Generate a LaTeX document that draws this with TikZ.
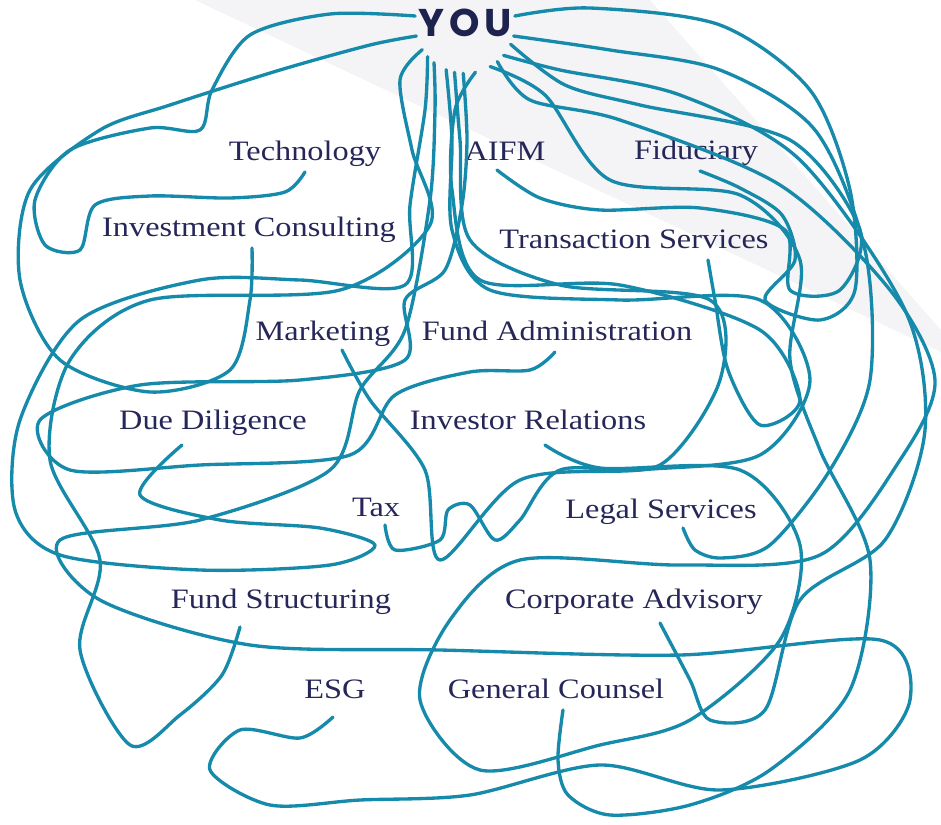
\documentclass[tikz,border=0pt]{standalone}
\usepackage{fontspec}
\setmainfont{Liberation Serif}[FakeStretch=1.15]
\newfontfamily\youfont{Poppins}[LetterSpace=12]
\usetikzlibrary{calc}
\definecolor{wireblue}{RGB}{22,138,171}
\definecolor{inkblue}{RGB}{38,39,88}
\definecolor{youblue}{RGB}{30,34,78}
\definecolor{beam}{RGB}{244,244,246}
\begin{document}
\begin{tikzpicture}[x=0.02cm, y=-0.02cm,
  wire/.style={draw=wireblue, line width=1.9pt, line cap=round, line join=round},
  lbl/.style={text=inkblue, font=\fontsize{16}{16}\selectfont, anchor=base, inner sep=0pt}]
\useasboundingbox (0,0) rectangle (941,825);
\fill[beam] (195,0) -- (650,0) -- (941,330) -- (941,352) -- cycle;

\node[circle, minimum size=2cm, inner sep=0pt, text=youblue, font=\youfont\bfseries\fontsize{22}{22}\selectfont] (you) at (465,23) {YOU};

\node[lbl] (tech) at (305,160) {Technology};
\node[lbl] (aifm) at (505,160) {AIFM};
\node[lbl] (fid) at (696,159) {Fiduciary};
\node[lbl] (inv) at (249,236) {Investment Consulting};
\node[lbl] (trans) at (634,248) {Transaction Services};
\node[lbl] (mark) at (323,340) {Marketing};
\node[lbl] (admin) at (557,340) {Fund Administration};
\node[lbl] (due) at (213,429) {Due Diligence};
\node[lbl] (rel) at (528,429) {Investor Relations};
\node[lbl] (tax) at (376,516) {Tax};
\node[lbl] (legal) at (661,518) {Legal Services};
\node[lbl] (struct) at (281,608) {Fund Structuring};
\node[lbl] (corp) at (634,608) {Corporate Advisory};
\node[lbl] (esg) at (335,698) {ESG};
\node[lbl] (gc) at (556,698) {General Counsel};

\coordinate (tech-tip) at ($(tech.base)+(0,12)$);
\coordinate (aifm-tip) at ($(aifm.base)+(-8,10)$);
\coordinate (fid-tip) at ($(fid.base)+(4,12)$);
\coordinate (inv-tip) at ($(inv.base)+(3,12)$);
\coordinate (trans-tip) at ($(trans.base)+(74,12)$);
\coordinate (mark-tip) at ($(mark.base)+(19,10)$);
\coordinate (admin-tip) at ($(admin.base)+(-2,12)$);
\coordinate (due-tip) at ($(due.base)+(-31,16)$);
\coordinate (rel-tip) at ($(rel.base)+(17,16)$);
\coordinate (tax-tip) at ($(tax.base)+(9,9)$);
\coordinate (legal-tip) at ($(legal.base)+(22,10)$);
\coordinate (struct-tip) at ($(struct.base)+(-41,19)$);
\coordinate (corp-tip) at ($(corp.base)+(26,15)$);
\coordinate (esg-tip) at ($(esg.base)+(-2,19)$);
\coordinate (gc-tip) at ($(gc.base)+(7,12)$);

\draw[wire] plot[smooth] coordinates {(you.172) (330,14) (250,35) (212,90) (200,130) (150,128) (70,150) (35,200) (45,245) (80,250) (95,205) (150,196) (230,198) (285,192) (tech-tip)};
\draw[wire] plot[smooth] coordinates {(you.195) (370,45) (280,70) (170,105) (100,130) (30,190) (20,280) (60,360) (150,392) (230,370) (250,300) (inv-tip)};
\draw[wire] plot[smooth] coordinates {(you.212) (400,80) (412,150) (430,225) (340,290) (150,300) (70,360) (50,460) (100,560) (80,650) (130,745) (180,715) (222,675) (struct-tip)};
\draw[wire] plot[smooth] coordinates {(you.222) (425,110) (410,205) (405,285) (300,280) (200,280) (80,320) (20,420) (15,510) (60,555) (200,570) (330,565) (375,545) (320,528) (220,520) (140,495) (due-tip)};
\draw[wire] plot[smooth] coordinates {(you.232) (435,110) (430,200) (405,330) (360,390) (330,470) (200,520) (60,540) (100,600) (250,645) (440,650) (680,655) (880,640) (910,700) (860,760) (720,790) (600,765) (470,795) (360,800) (270,805) (210,770) (240,730) (300,738) (esg-tip)};
\draw[wire] plot[smooth] coordinates {(you.248) (452,140) (452,230) (490,290) (620,300) (760,300) (810,380) (760,455) (640,470) (520,480) (440,560) (425,470) (370,400) (mark-tip)};
\draw[wire] plot[smooth] coordinates {(you.258) (460,140) (470,240) (560,285) (710,300) (720,380) (660,465) (560,470) (520,520) (495,540) (470,505) (448,510) (440,540) (395,550) (tax-tip)};
\draw[wire] plot[smooth] coordinates {(you.268) (467,140) (462,205) (445,270) (405,300) (405,360) (300,380) (140,385) (40,420) (70,470) (200,465) (350,455) (395,395) (470,372) (530,370) (admin-tip)};
\draw[wire] plot[smooth] coordinates {(you.282) (455,110) (452,190) (480,280) (620,285) (760,330) (800,400) (760,425) (728,370) (715,300) (trans-tip)};
\draw[wire] plot[smooth] coordinates {(you.300) (545,95) (610,180) (740,195) (800,260) (790,360) (820,450) (870,560) (850,690) (770,770) (690,805) (610,815) (568,795) (558,760) (gc-tip)};
\draw[wire] plot[smooth] coordinates {(you.310) (530,100) (620,120) (780,185) (890,290) (935,380) (900,460) (820,555) (680,565) (520,560) (450,620) (420,700) (480,770) (600,745) (690,720) (780,640) (800,545) (740,470) (600,468) (rel-tip)};
\draw[wire] plot[smooth] coordinates {(you.320) (560,70) (680,95) (800,160) (905,310) (925,430) (885,540) (800,600) (765,710) (710,720) (690,680) (corp-tip)};
\draw[wire] plot[smooth] coordinates {(you.335) (565,85) (640,105) (790,140) (860,230) (840,290) (790,290) (785,230) (700,208) (600,210) (540,198) (aifm-tip)};
\draw[wire] plot[smooth] coordinates {(you.345) (610,50) (720,70) (815,130) (865,250) (870,380) (830,470) (770,545) (722,558) (695,550) (legal-tip)};
\draw[wire] plot[smooth] coordinates {(you.8) (590,8) (720,25) (810,90) (850,190) (855,290) (820,320) (765,300) (795,260) (782,215) (740,188) (fid-tip)};
\end{tikzpicture}
\end{document}
